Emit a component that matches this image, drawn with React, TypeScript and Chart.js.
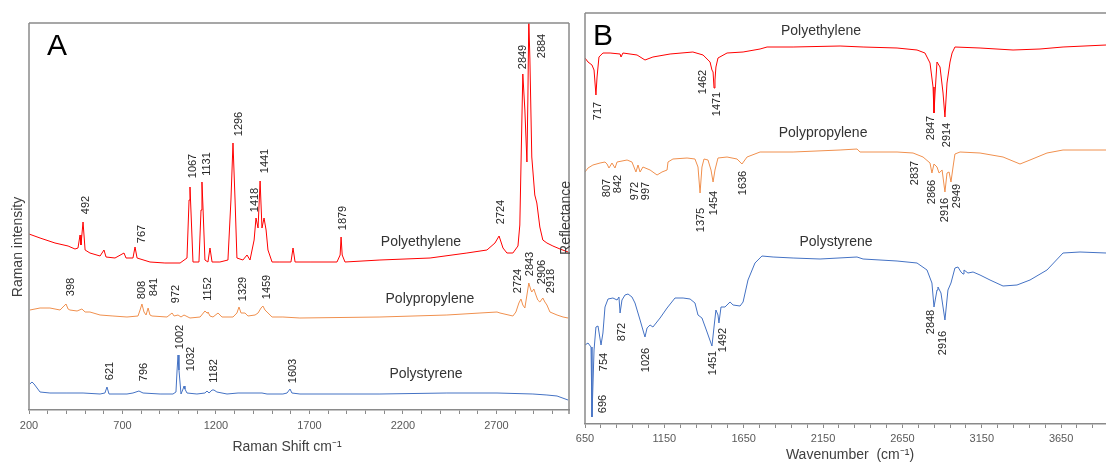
import React, { useEffect, useRef } from 'react';
import { Chart, registerables } from 'chart.js';
Chart.register(...registerables);

// ---------- axis tick labels ----------
const ramanTickLabels = [200, 700, 1200, 1700, 2200, 2700];
const ftirTickLabels = [650, 1150, 1650, 2150, 2650, 3150, 3650];

// ---------- Panel A : Raman spectra [Raman shift cm-1, intensity (offset, a.u.)] ----------
const ramanPE: [number, number][] = [
  [200, 176], [259, 172], [339, 167], [409, 164], [446, 161], [462, 162], [473, 175], [478, 165],
  [489, 188], [500, 160], [526, 157], [580, 154], [601, 160], [612, 153], [660, 152], [708, 157],
  [719, 152], [756, 152], [767, 163], [778, 152], [847, 148], [927, 147], [1008, 147], [1045, 152],
  [1056, 210], [1061, 223], [1066, 200], [1077, 148], [1109, 148], [1120, 200], [1125, 228], [1130, 205],
  [1141, 150], [1157, 148], [1168, 162], [1179, 148], [1221, 148], [1264, 150], [1280, 210], [1291, 267],
  [1302, 210], [1312, 152], [1344, 150], [1366, 155], [1382, 150], [1404, 170], [1414, 192], [1425, 182],
  [1436, 229], [1446, 182], [1457, 192], [1468, 180], [1478, 160], [1500, 148], [1542, 148], [1601, 148],
  [1612, 162], [1623, 148], [1703, 148], [1847, 148], [1864, 155], [1869, 173], [1875, 155], [1890, 148],
  [2077, 150], [2345, 152], [2542, 157], [2649, 160], [2692, 167], [2714, 174], [2735, 162], [2756, 157],
  [2788, 157], [2815, 164], [2825, 185], [2836, 290], [2841, 336], [2852, 300], [2863, 248], [2868, 310],
  [2873, 392], [2879, 350], [2889, 253], [2905, 215], [2916, 207], [2932, 183], [2948, 170], [2970, 167],
  [3002, 164], [3040, 161], [3083, 158],
];
const ramanPP: [number, number][] = [
  [205, 100], [259, 102], [312, 102], [366, 100], [387, 104], [398, 106], [409, 101], [419, 100],
  [457, 99], [483, 101], [500, 98], [526, 98], [580, 95], [649, 94], [724, 93], [783, 94],
  [794, 100], [804, 106], [815, 98], [826, 95], [837, 102], [847, 95], [858, 94], [938, 93],
  [965, 97], [976, 94], [997, 95], [1013, 93], [1029, 95], [1061, 92], [1115, 93], [1141, 99],
  [1152, 97], [1157, 98], [1168, 94], [1184, 93], [1211, 97], [1232, 93], [1291, 93], [1312, 97],
  [1323, 103], [1334, 97], [1355, 97], [1371, 94], [1409, 95], [1425, 97], [1441, 102], [1451, 104],
  [1462, 100], [1473, 98], [1500, 93], [1558, 93], [1649, 92], [2077, 93], [2435, 95], [2612, 97],
  [2703, 98], [2719, 97], [2788, 94], [2804, 98], [2820, 107], [2831, 111], [2841, 105], [2852, 102],
  [2863, 115], [2873, 127], [2884, 120], [2889, 118], [2900, 121], [2911, 115], [2921, 110], [2932, 108],
  [2948, 112], [2959, 108], [2970, 105], [2986, 98], [3024, 95], [3056, 93], [3083, 92],
];
const ramanPS: [number, number][] = [
  [205, 26], [216, 28], [227, 26], [243, 22], [259, 18], [312, 17], [403, 17], [489, 17],
  [580, 16], [606, 17], [617, 23], [628, 16], [724, 16], [756, 17], [788, 19], [810, 17],
  [901, 16], [970, 16], [986, 18], [992, 40], [997, 55], [1002, 40], [1013, 16], [1024, 21],
  [1029, 24], [1034, 21], [1045, 17], [1098, 16], [1141, 17], [1152, 19], [1163, 17], [1179, 20],
  [1189, 20], [1205, 18], [1259, 16], [1318, 17], [1446, 17], [1473, 16], [1558, 16], [1580, 17],
  [1596, 21], [1606, 17], [1649, 16], [2077, 16], [2435, 17], [2703, 17], [2895, 16], [2970, 15],
  [3024, 14], [3083, 10],
];

// ---------- Panel B : FTIR spectra [wavenumber cm-1, reflectance (offset, a.u.)] ----------
const ftirPE: [number, number][] = [
  [650, 366], [669, 362], [694, 359], [707, 354], [719, 329], [726, 347], [738, 367], [763, 371],
  [808, 371], [871, 370], [877, 367], [889, 371], [978, 369], [1028, 364], [1078, 367], [1186, 370],
  [1330, 372], [1394, 369], [1438, 362], [1450, 354], [1457, 352], [1463, 336], [1469, 344], [1475, 357],
  [1488, 366], [1545, 371], [1646, 372], [1753, 375], [1797, 377], [1961, 377], [2257, 378], [2402, 377],
  [2616, 376], [2742, 374], [2792, 371], [2824, 361], [2843, 337], [2849, 311], [2855, 329], [2862, 347],
  [2868, 362], [2887, 357], [2906, 331], [2918, 307], [2931, 341], [2950, 362], [2963, 371], [2981, 377],
  [3139, 376], [3347, 374], [3517, 375], [3662, 377], [3933, 379],
];
const ftirPP: [number, number][] = [
  [650, 252], [669, 256], [700, 259], [745, 261], [776, 262], [789, 260], [801, 256], [820, 261],
  [839, 256], [852, 262], [915, 264], [946, 262], [971, 252], [984, 259], [997, 252], [1015, 257],
  [1060, 254], [1104, 249], [1135, 252], [1167, 254], [1173, 262], [1204, 265], [1293, 266], [1343, 265],
  [1362, 257], [1375, 231], [1387, 257], [1400, 265], [1425, 264], [1444, 254], [1457, 242], [1469, 254],
  [1488, 266], [1545, 267], [1608, 265], [1639, 260], [1671, 267], [1753, 272], [1961, 272], [2257, 274],
  [2364, 275], [2383, 272], [2616, 272], [2717, 271], [2780, 267], [2824, 261], [2836, 251], [2849, 260],
  [2868, 257], [2881, 251], [2900, 254], [2918, 232], [2931, 251], [2944, 252], [2956, 242], [2969, 257],
  [2981, 270], [3013, 272], [3139, 271], [3284, 267], [3391, 260], [3454, 264], [3561, 271], [3662, 274],
  [3933, 274],
];
const ftirPS: [number, number][] = [
  [650, 79], [669, 81], [688, 77], [694, 7], [707, 74], [719, 97], [732, 98], [751, 79],
  [763, 91], [776, 117], [795, 125], [826, 126], [852, 124], [864, 127], [871, 111], [883, 124],
  [902, 129], [921, 130], [946, 127], [965, 121], [997, 104], [1015, 94], [1028, 87], [1041, 96],
  [1060, 99], [1078, 97], [1123, 106], [1167, 116], [1217, 126], [1268, 126], [1312, 125], [1343, 121],
  [1362, 109], [1387, 106], [1419, 92], [1450, 78], [1463, 97], [1475, 114], [1488, 109], [1494, 101],
  [1507, 117], [1532, 117], [1564, 122], [1583, 119], [1627, 118], [1646, 122], [1677, 144], [1721, 161],
  [1765, 168], [1835, 167], [1961, 166], [2131, 165], [2364, 167], [2402, 165], [2616, 163], [2742, 161],
  [2805, 154], [2836, 141], [2849, 117], [2868, 134], [2874, 137], [2893, 131], [2918, 104], [2937, 134],
  [2956, 141], [2981, 156], [3000, 157], [3019, 152], [3032, 150], [3038, 154], [3063, 151], [3095, 152],
  [3139, 149], [3202, 144], [3284, 138], [3372, 139], [3454, 144], [3561, 154], [3662, 171], [3769, 172],
  [3933, 171],
];

// ---------- peak annotations {text, x, y} in data units ----------
type Lbl = { t: string; x: number; y: number };
const ramanPELabels: Lbl[] = [
  { t: '492', x: 505, y: 205 }, { t: '767', x: 804, y: 176 }, { t: '1067', x: 1077, y: 244 },
  { t: '1131', x: 1152, y: 246 }, { t: '1296', x: 1323, y: 286 }, { t: '1418', x: 1409, y: 210 },
  { t: '1441', x: 1462, y: 249 }, { t: '1879', x: 1879, y: 192 }, { t: '2724', x: 2724, y: 198 },
  { t: '2849', x: 2842, y: 353 }, { t: '2884', x: 2944, y: 364 },
];
const ramanPPLabels: Lbl[] = [
  { t: '398', x: 425, y: 123 }, { t: '808', x: 804, y: 120 }, { t: '841', x: 868, y: 123 },
  { t: '972', x: 986, y: 116 }, { t: '1152', x: 1157, y: 121 }, { t: '1329', x: 1344, y: 121 },
  { t: '1459', x: 1473, y: 123 }, { t: '2724', x: 2815, y: 129 }, { t: '2843', x: 2879, y: 146 },
  { t: '2906', x: 2944, y: 138 }, { t: '2918', x: 2992, y: 129 },
];
const ramanPSLabels: Lbl[] = [
  { t: '621', x: 633, y: 39 }, { t: '796', x: 815, y: 38 }, { t: '1002', x: 1008, y: 73 },
  { t: '1032', x: 1066, y: 51 }, { t: '1182', x: 1189, y: 39 }, { t: '1603', x: 1612, y: 39 },
];
const ramanNames: Lbl[] = [
  { t: 'Polyethylene', x: 2296, y: 168 }, { t: 'Polypropylene', x: 2344, y: 111 },
  { t: 'Polystyrene', x: 2323, y: 36 },
];
const ftirPELabels: Lbl[] = [
  { t: '717', x: 732, y: 313 }, { t: '1462', x: 1394, y: 342 }, { t: '1471', x: 1482, y: 320 },
  { t: '2847', x: 2830, y: 296 }, { t: '2914', x: 2931, y: 289 },
];
const ftirPPLabels: Lbl[] = [
  { t: '807', x: 789, y: 236 }, { t: '842', x: 858, y: 240 }, { t: '972', x: 965, y: 233 },
  { t: '997', x: 1034, y: 233 }, { t: '1375', x: 1381, y: 204 }, { t: '1454', x: 1463, y: 221 },
  { t: '1636', x: 1646, y: 241 }, { t: '2837', x: 2729, y: 251 }, { t: '2866', x: 2836, y: 232 },
  { t: '2916', x: 2918, y: 214 }, { t: '2949', x: 2994, y: 228 },
];
const ftirPSLabels: Lbl[] = [
  { t: '696', x: 763, y: 20 }, { t: '754', x: 770, y: 62 }, { t: '872', x: 883, y: 92 },
  { t: '1026', x: 1034, y: 64 }, { t: '1451', x: 1457, y: 61 }, { t: '1492', x: 1520, y: 84 },
  { t: '2848', x: 2830, y: 102 }, { t: '2916', x: 2906, y: 81 },
];
const ftirNames: Lbl[] = [
  { t: 'Polyethylene', x: 2137, y: 393 }, { t: 'Polypropylene', x: 2150, y: 291 },
  { t: 'Polystyrene', x: 2232, y: 182 },
];

const FONT = '"Liberation Sans", Arial, sans-serif';
const RED = '#FF0000';
const ORANGE = '#F0904E';
const BLUE = '#4472C4';
const AXIS = '#8A8A8A';

const decorPlugin = {
  id: 'decor',
  afterDraw(chart: any, _args: any, o: any) {
    const { ctx, chartArea: ca, scales } = chart;
    const xs = scales.x;
    const ys = scales.y;
    ctx.save();
    // frame
    ctx.strokeStyle = AXIS;
    ctx.lineWidth = 1.5;
    ctx.beginPath();
    if (o.sides.includes('top')) { ctx.moveTo(ca.left, ca.top); ctx.lineTo(ca.right, ca.top); }
    if (o.sides.includes('left')) { ctx.moveTo(ca.left, ca.top); ctx.lineTo(ca.left, ca.bottom); }
    if (o.sides.includes('right')) { ctx.moveTo(ca.right, ca.top); ctx.lineTo(ca.right, ca.bottom + 4); }
    ctx.stroke();
    // peak labels
    ctx.fillStyle = '#262626';
    ctx.font = `11px ${FONT}`;
    ctx.textAlign = 'center';
    ctx.textBaseline = 'middle';
    for (const group of o.peaks) {
      for (const p of group) {
        ctx.save();
        ctx.translate(xs.getPixelForValue(p.x), ys.getPixelForValue(p.y));
        ctx.rotate(-Math.PI / 2);
        ctx.fillText(p.t, 0, 0);
        ctx.restore();
      }
    }
    // series names
    ctx.fillStyle = '#333333';
    ctx.font = `14px ${FONT}`;
    for (const n of o.names) ctx.fillText(n.t, xs.getPixelForValue(n.x), ys.getPixelForValue(n.y));
    // panel letter
    ctx.fillStyle = '#000';
    ctx.font = `30px ${FONT}`;
    ctx.fillText(o.letter, o.letterPos[0], o.letterPos[1]);
    // axis titles
    ctx.fillStyle = '#404040';
    ctx.font = `14px ${FONT}`;
    ctx.fillText(o.xTitle, o.xTitlePos[0], o.xTitlePos[1]);
    ctx.save();
    ctx.translate(o.yTitlePos[0], o.yTitlePos[1]);
    ctx.rotate(-Math.PI / 2);
    ctx.fillText(o.yTitle, 0, 0);
    ctx.restore();
    ctx.restore();
  },
};

function line(data: [number, number][], color: string) {
  return {
    data: data.map(([x, y]) => ({ x, y })),
    borderColor: color,
    borderWidth: 1,
    pointRadius: 0,
    tension: 0,
    fill: false,
  };
}

function makeConfig(p: any) {
  return {
    type: 'line',
    data: { datasets: p.datasets },
    plugins: [decorPlugin],
    options: {
      animation: false,
      responsive: false,
      events: [],
      layout: { padding: p.padding },
      plugins: { legend: { display: false }, tooltip: { enabled: false }, decor: p.decor },
      scales: {
        x: {
          type: 'linear',
          min: p.xmin,
          max: p.xmax,
          afterBuildTicks: (s: any) => {
            const t = [];
            for (let v = p.xmin; v <= p.xmax; v += 100) t.push({ value: v });
            s.ticks = t;
          },
          afterFit: (s: any) => { s.height = p.xHeight; },
          ticks: {
            autoSkip: false,
            maxRotation: 0,
            padding: p.tickPad,
            color: '#595959',
            font: { family: FONT, size: 11 },
            callback: (v: number) => (p.tickLabels.includes(v) ? String(v) : ''),
          },
          grid: { display: true, drawOnChartArea: false, drawTicks: true, tickLength: 4, color: AXIS },
          border: { display: true, color: AXIS, width: 1.5 },
        },
        y: {
          min: 0,
          max: p.ymax,
          afterFit: (s: any) => { s.width = p.yWidth; },
          ticks: { display: false },
          grid: { display: false },
          border: { display: false },
        },
      },
    },
  };
}

export default function App() {
  const refA = useRef<HTMLCanvasElement>(null);
  const refB = useRef<HTMLCanvasElement>(null);

  useEffect(() => {
    const a = new Chart(refA.current as any, makeConfig({
      datasets: [line(ramanPE, RED), line(ramanPP, ORANGE), line(ramanPS, BLUE)],
      padding: { top: 23, right: 6, left: 0, bottom: 0 },
      xmin: 200, xmax: 3088, ymax: 387, xHeight: 53, yWidth: 29, tickPad: 5,
      tickLabels: ramanTickLabels,
      decor: {
        sides: ['top', 'left', 'right'],
        peaks: [ramanPELabels, ramanPPLabels, ramanPSLabels],
        names: ramanNames,
        letter: 'A', letterPos: [57, 47],
        xTitle: 'Raman Shift cm\u207B\u00B9', xTitlePos: [287, 447],
        yTitle: 'Raman intensity', yTitlePos: [18, 247],
      },
    }) as any);
    const b = new Chart(refB.current as any, makeConfig({
      datasets: [line(ftirPE, RED), line(ftirPP, ORANGE), line(ftirPS, BLUE)],
      padding: { top: 13, right: 16, left: 0, bottom: 0 },
      xmin: 650, xmax: 3958, ymax: 411, xHeight: 39, yWidth: 32, tickPad: 4,
      tickLabels: ftirTickLabels,
      decor: {
        sides: ['top', 'left'],
        peaks: [ftirPELabels, ftirPPLabels, ftirPSLabels],
        names: ftirNames,
        letter: 'B', letterPos: [50, 37],
        xTitle: 'Wavenumber  (cm\u207B\u00B9)', xTitlePos: [297, 455],
        yTitle: 'Reflectance', yTitlePos: [13, 218],
      },
    }) as any);
    return () => { a.destroy(); b.destroy(); };
  }, []);

  return (
    <div style={{ position: 'fixed', left: 0, top: 0, width: 1106, height: 463, overflow: 'hidden', background: '#fff' }}>
      <canvas ref={refA} width={575} height={463} style={{ position: 'absolute', left: 0, top: 0 }} />
      <canvas ref={refB} width={573} height={463} style={{ position: 'absolute', left: 553, top: 0 }} />
    </div>
  );
}
